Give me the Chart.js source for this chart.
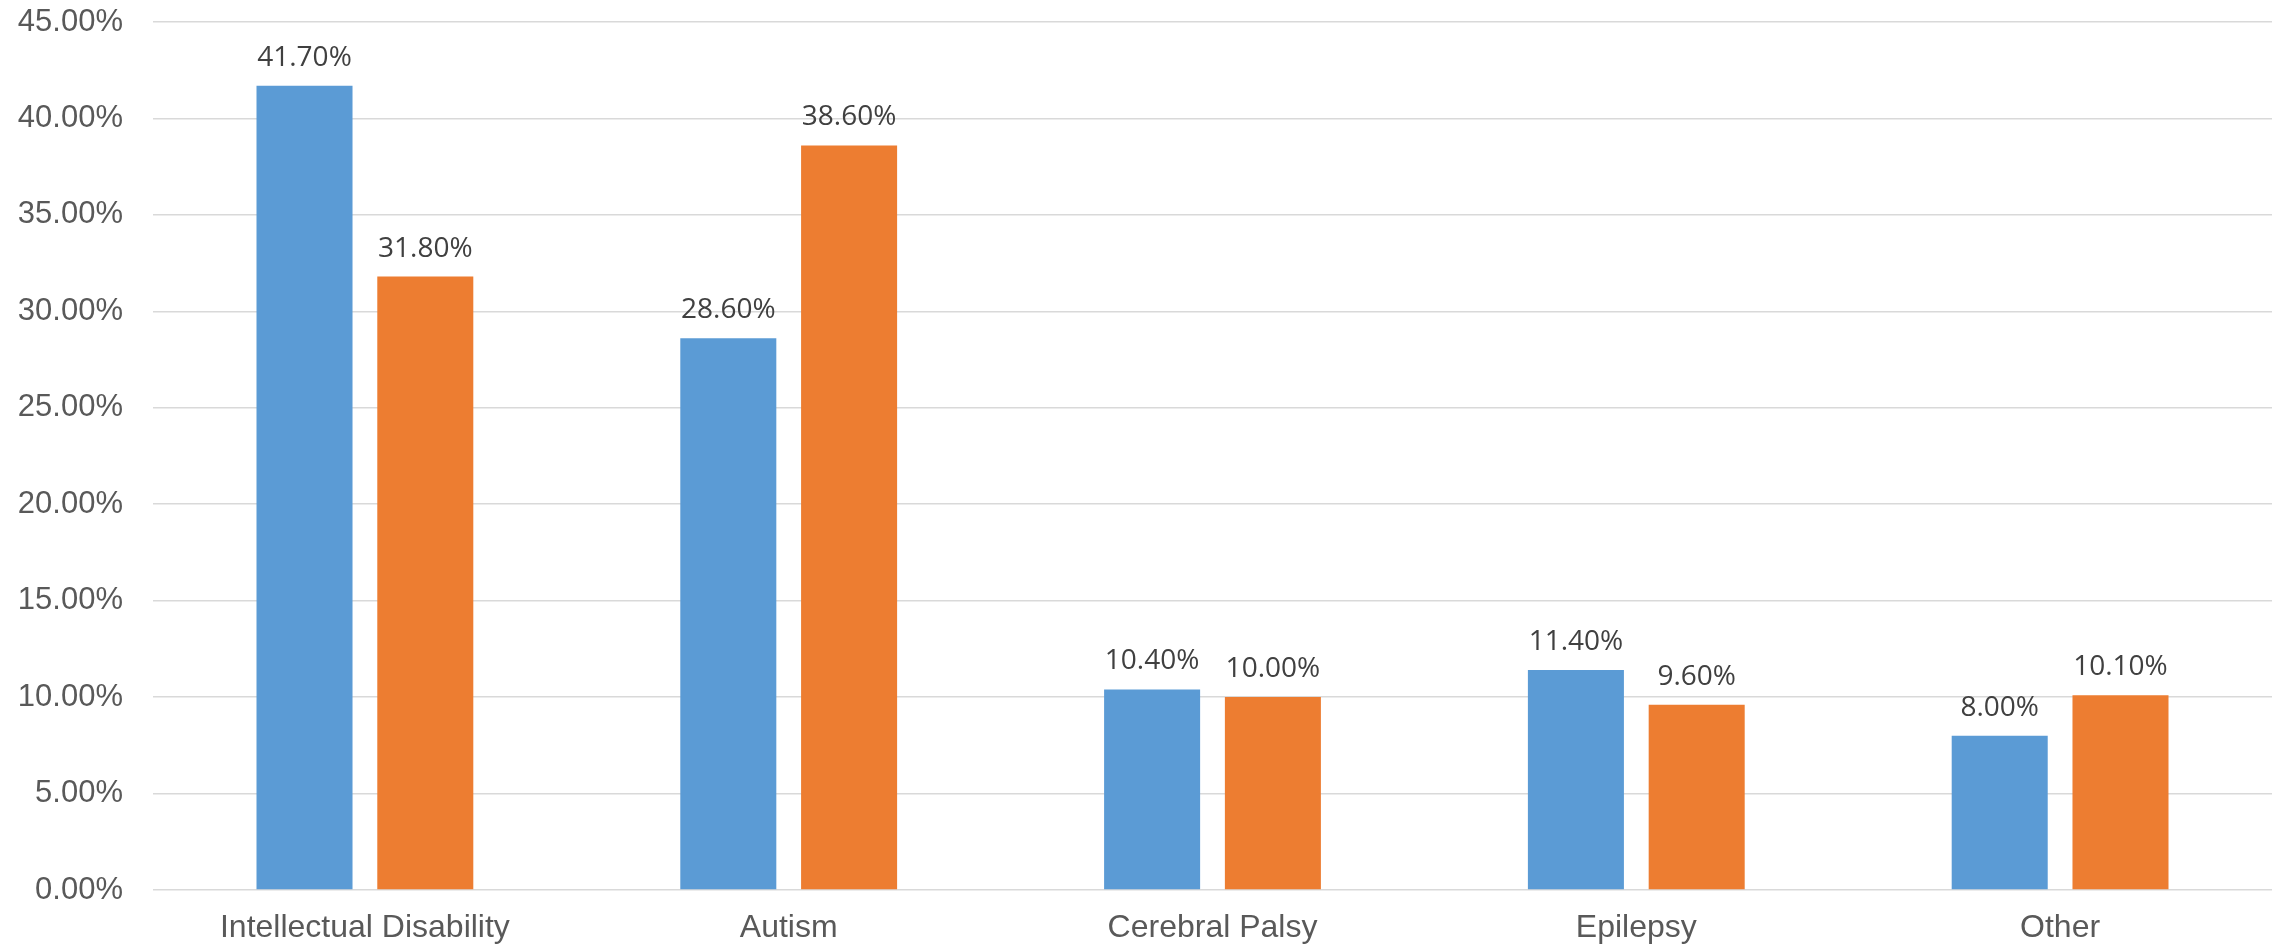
<!DOCTYPE html>
<html>
<head>
<meta charset="utf-8">
<script src="https://cdn.jsdelivr.net/npm/chart.js@4/dist/chart.umd.min.js"></script>
<style>
  html, body { margin: 0; padding: 0; background: #ffffff; }
  #wrap { width: 2282px; height: 947px; position: relative; }
</style>
</head>
<body>
<div id="wrap"><canvas id="c" width="2282" height="947"></canvas></div>
<script>
const categories = ["Intellectual Disability", "Autism", "Cerebral Palsy", "Epilepsy", "Other"];
const seriesA = [41.7, 28.6, 10.4, 11.4, 8.0];
const seriesB = [31.8, 38.6, 10.0, 9.6, 10.1];
const yMin = 0;
const yMax = 45;
const yStep = 5;

const valueLabels = {
  id: 'valueLabels',
  afterDatasetsDraw(chart) {
    const ctx = chart.ctx;
    ctx.save();
    ctx.font = '28px "Open Sans", "Noto Sans", sans-serif';
    ctx.fillStyle = '#404040';
    ctx.textAlign = 'center';
    ctx.textBaseline = 'alphabetic';
    chart.data.datasets.forEach((ds, i) => {
      const meta = chart.getDatasetMeta(i);
      meta.data.forEach((bar, j) => {
        ctx.fillText(ds.data[j].toFixed(2) + '%', bar.x, bar.y - 20);
      });
    });
    ctx.restore();
  }
};

new Chart(document.getElementById('c'), {
  type: 'bar',
  data: {
    labels: categories,
    datasets: [
      { label: 'Series 1', data: seriesA, backgroundColor: '#5B9BD5', borderWidth: 0 },
      { label: 'Series 2', data: seriesB, backgroundColor: '#ED7D31', borderWidth: 0 }
    ]
  },
  options: {
    responsive: false,
    animation: false,
    devicePixelRatio: 1,
    layout: { padding: { top: 22, right: 10, bottom: 0, left: 0 } },
    plugins: { legend: { display: false }, tooltip: { enabled: false } },
    datasets: { bar: { categoryPercentage: 0.57, barPercentage: 0.795 } },
    scales: {
      x: {
        grid: { display: false, drawTicks: false },
        border: { display: false },
        ticks: {
          color: '#595959',
          font: { family: '"Liberation Sans", Arial, sans-serif', size: 32 },
          padding: 19,
          maxRotation: 0
        },
        afterFit(s) { s.height = 57; s.paddingLeft = 0; s.paddingRight = 0; }
      },
      y: {
        min: yMin,
        max: yMax,
        grid: { color: '#D9D9D9', lineWidth: 1.5, drawTicks: false },
        border: { display: false },
        ticks: {
          stepSize: yStep,
          color: '#595959',
          font: { family: '"Liberation Sans", Arial, sans-serif', size: 31 },
          padding: 30,
          callback: v => v.toFixed(2) + '%'
        },
        afterFit(s) { s.width = 153; s.paddingTop = 0; s.paddingBottom = 0; }
      }
    }
  },
  plugins: [valueLabels]
});
</script>
</body>
</html>
